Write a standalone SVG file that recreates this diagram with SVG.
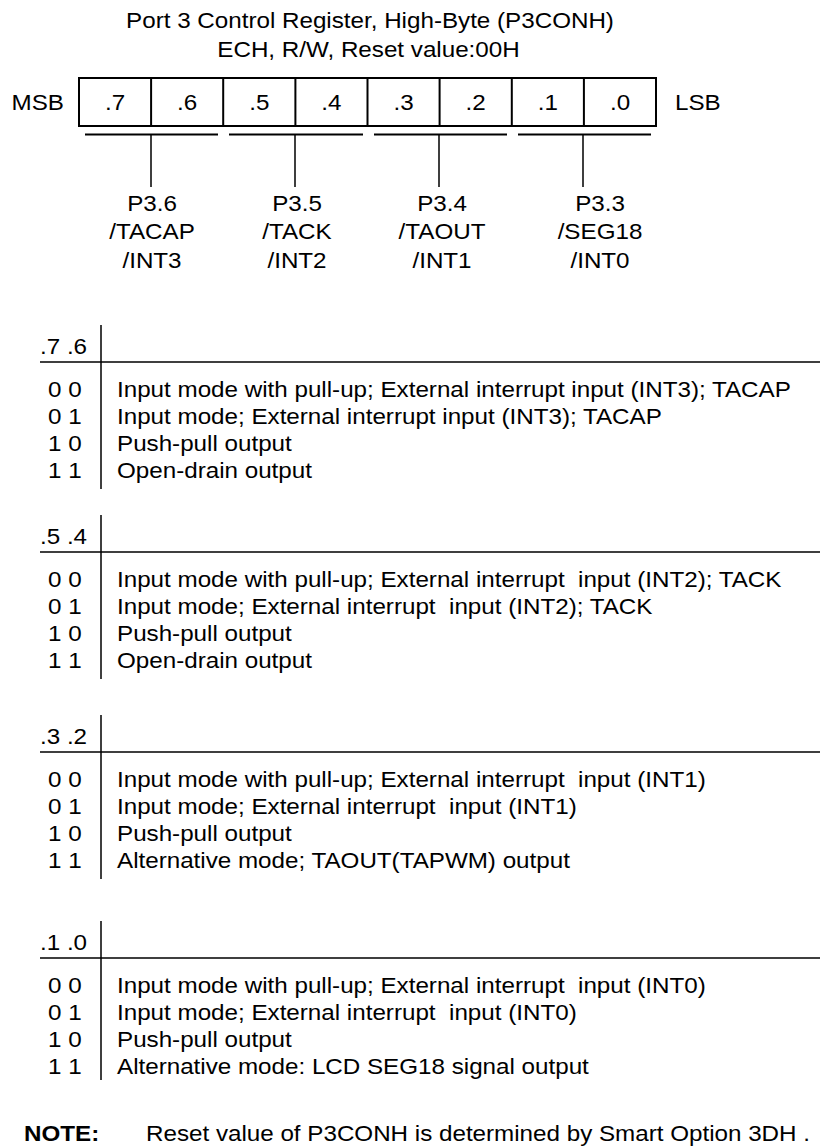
<svg xmlns="http://www.w3.org/2000/svg" width="820" height="1147" viewBox="0 0 820 1147">
<style>
.t{font-family:"Liberation Sans",Arial,Helvetica,sans-serif;font-size:22px;fill:#000;white-space:pre}
.m{text-anchor:middle}
.b{font-weight:bold}
.ln{stroke:#000;stroke-width:1.5;fill:none}
.bx{stroke:#000;stroke-width:2;fill:#fff}
.ul{stroke:#000;stroke-width:2}
</style>
<rect width="820" height="1147" fill="#fff"/>
<g id="title">
<text class="t m" transform="translate(370 28) scale(1.1 1)">Port 3 Control Register, High-Byte (P3CONH)</text>
<text class="t m" transform="translate(368.5 57) scale(1.1 1)">ECH, R/W, Reset value:00H</text>
</g>
<g id="register">
<text class="t" transform="translate(11.6 110) scale(1.1 1)">MSB</text>
<rect class="bx" x="79" y="78" width="577" height="48"/>
<path class="bx" d="M151.1 78V126M223.2 78V126M295.4 78V126M367.5 78V126M439.6 78V126M511.8 78V126M583.9 78V126"/>
<text class="t m" transform="translate(115 110) scale(1.1 1)">.7</text>
<text class="t m" transform="translate(187.2 110) scale(1.1 1)">.6</text>
<text class="t m" transform="translate(259.3 110) scale(1.1 1)">.5</text>
<text class="t m" transform="translate(331.4 110) scale(1.1 1)">.4</text>
<text class="t m" transform="translate(403.6 110) scale(1.1 1)">.3</text>
<text class="t m" transform="translate(475.7 110) scale(1.1 1)">.2</text>
<text class="t m" transform="translate(547.8 110) scale(1.1 1)">.1</text>
<text class="t m" transform="translate(620 110) scale(1.1 1)">.0</text>
<text class="t" transform="translate(675 110) scale(1.1 1)">LSB</text>
</g>
<g id="connectors">
<path class="ul" d="M85 134.5H218M229 134.5H363M374 134.5H507M518 134.5H651"/>
<path class="ln" d="M151 134V187M295 134V187M439 134V187M583 134V187"/>
</g>
<g id="pin-labels">
<text class="t m" transform="translate(152 211) scale(1.1 1)">P3.6</text>
<text class="t m" transform="translate(152 239) scale(1.1 1)">/TACAP</text>
<text class="t m" transform="translate(152 268) scale(1.1 1)">/INT3</text>
<text class="t m" transform="translate(297 211) scale(1.1 1)">P3.5</text>
<text class="t m" transform="translate(297 239) scale(1.1 1)">/TACK</text>
<text class="t m" transform="translate(297 268) scale(1.1 1)">/INT2</text>
<text class="t m" transform="translate(442 211) scale(1.1 1)">P3.4</text>
<text class="t m" transform="translate(442 239) scale(1.1 1)">/TAOUT</text>
<text class="t m" transform="translate(442 268) scale(1.1 1)">/INT1</text>
<text class="t m" transform="translate(600 211) scale(1.1 1)">P3.3</text>
<text class="t m" transform="translate(600 239) scale(1.1 1)">/SEG18</text>
<text class="t m" transform="translate(600 268) scale(1.1 1)">/INT0</text>
</g>
<g id="sec76">
<path class="ln" d="M40 362H820M101 325V489"/>
<text class="t" transform="translate(40 354) scale(1.1 1)">.7 .6</text>
<text class="t" transform="translate(48 397) scale(1.1 1)">0 0</text>
<text class="t" transform="translate(48 424) scale(1.1 1)">0 1</text>
<text class="t" transform="translate(48 451) scale(1.1 1)">1 0</text>
<text class="t" transform="translate(48 478) scale(1.1 1)">1 1</text>
<text class="t" transform="translate(117 397) scale(1.1 1)">Input mode with pull-up; External interrupt input (INT3); TACAP</text>
<text class="t" transform="translate(117 424) scale(1.1 1)">Input mode; External interrupt input (INT3); TACAP</text>
<text class="t" transform="translate(117 451) scale(1.1 1)">Push-pull output</text>
<text class="t" transform="translate(117 478) scale(1.1 1)">Open-drain output</text>
</g>
<g id="sec54">
<path class="ln" d="M40 552H820M101 515V679"/>
<text class="t" transform="translate(40 544) scale(1.1 1)">.5 .4</text>
<text class="t" transform="translate(48 587) scale(1.1 1)">0 0</text>
<text class="t" transform="translate(48 614) scale(1.1 1)">0 1</text>
<text class="t" transform="translate(48 641) scale(1.1 1)">1 0</text>
<text class="t" transform="translate(48 668) scale(1.1 1)">1 1</text>
<text class="t" transform="translate(117 587) scale(1.1 1)">Input mode with pull-up; External interrupt  input (INT2); TACK</text>
<text class="t" transform="translate(117 614) scale(1.1 1)">Input mode; External interrupt  input (INT2); TACK</text>
<text class="t" transform="translate(117 641) scale(1.1 1)">Push-pull output</text>
<text class="t" transform="translate(117 668) scale(1.1 1)">Open-drain output</text>
</g>
<g id="sec32">
<path class="ln" d="M40 752H820M101 715V879"/>
<text class="t" transform="translate(40 744) scale(1.1 1)">.3 .2</text>
<text class="t" transform="translate(48 787) scale(1.1 1)">0 0</text>
<text class="t" transform="translate(48 814) scale(1.1 1)">0 1</text>
<text class="t" transform="translate(48 841) scale(1.1 1)">1 0</text>
<text class="t" transform="translate(48 868) scale(1.1 1)">1 1</text>
<text class="t" transform="translate(117 787) scale(1.1 1)">Input mode with pull-up; External interrupt  input (INT1)</text>
<text class="t" transform="translate(117 814) scale(1.1 1)">Input mode; External interrupt  input (INT1)</text>
<text class="t" transform="translate(117 841) scale(1.1 1)">Push-pull output</text>
<text class="t" transform="translate(117 868) scale(1.1 1)">Alternative mode; TAOUT(TAPWM) output</text>
</g>
<g id="sec10">
<path class="ln" d="M40 958H820M101 921V1080"/>
<text class="t" transform="translate(40 950) scale(1.1 1)">.1 .0</text>
<text class="t" transform="translate(48 993) scale(1.1 1)">0 0</text>
<text class="t" transform="translate(48 1020) scale(1.1 1)">0 1</text>
<text class="t" transform="translate(48 1047) scale(1.1 1)">1 0</text>
<text class="t" transform="translate(48 1074) scale(1.1 1)">1 1</text>
<text class="t" transform="translate(117 993) scale(1.1 1)">Input mode with pull-up; External interrupt  input (INT0)</text>
<text class="t" transform="translate(117 1020) scale(1.1 1)">Input mode; External interrupt  input (INT0)</text>
<text class="t" transform="translate(117 1047) scale(1.1 1)">Push-pull output</text>
<text class="t" transform="translate(117 1074) scale(1.1 1)">Alternative mode: LCD SEG18 signal output</text>
</g>
<g id="note">
<text class="t b" transform="translate(24 1141) scale(1.1 1)">NOTE:</text>
<text class="t" transform="translate(146 1141) scale(1.1 1)">Reset value of P3CONH is determined by Smart Option 3DH .</text>
</g>
</svg>
